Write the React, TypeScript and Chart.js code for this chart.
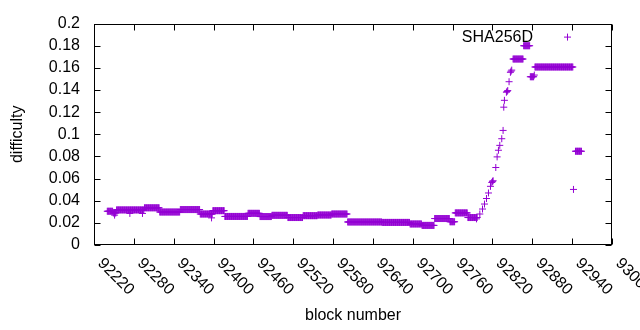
import React, { useEffect, useRef } from "react";
import { Chart, registerables } from "chart.js";

Chart.register(...registerables);

// ---- axis settings ----
const X_MIN = 92220;
const X_MAX = 93000;
const X_STEP = 60;
const Y_MIN = 0;
const Y_MAX = 0.2;
const Y_STEP = 0.02;

// ---- texts ----
const SERIES_LABEL = "SHA256D";
const X_TITLE = "block number";
const Y_TITLE = "difficulty";

// ---- data: plateaus (constant difficulty over a range of blocks) ----
const runStart = [
  92240, 92249, 92254, 92296, 92319, 92350, 92380, 92399, 92417, 92452,
  92470, 92488, 92512, 92535, 92557, 92578, 92602, 92654, 92696, 92714,
  92733, 92756, 92764, 92783, 92851, 92867, 92877, 92884, 92945,
];
const runEnd = [
  92248, 92253, 92295, 92318, 92349, 92379, 92398, 92416, 92451, 92469,
  92487, 92511, 92534, 92556, 92577, 92601, 92653, 92695, 92713, 92732,
  92755, 92763, 92782, 92797, 92866, 92876, 92882, 92941, 92954,
];
const runValue = [
  0.0305, 0.029, 0.0317, 0.0336, 0.0298, 0.032, 0.028, 0.031, 0.0258, 0.0286,
  0.0257, 0.0268, 0.0248, 0.0265, 0.0271, 0.028, 0.0208, 0.0204, 0.019, 0.0177,
  0.0239, 0.021, 0.029, 0.0248, 0.168, 0.18, 0.152, 0.1608, 0.0847,
];

// ---- data: individual blocks ----
const pointBlocks = [
  92251, 92274, 92293, 92397, 92796, 92801, 92805, 92808, 92811, 92814,
  92817, 92819, 92820, 92821, 92825, 92827, 92829, 92831, 92834, 92836,
  92837, 92838, 92841, 92842, 92843, 92845, 92847, 92848, 92849, 92883,
  92942,
];
const pointValues = [
  0.027, 0.0285, 0.0285, 0.0245, 0.0236, 0.028, 0.0325, 0.037, 0.042, 0.047,
  0.053, 0.0565, 0.0575, 0.058, 0.07, 0.0796, 0.0856, 0.09, 0.096, 0.1035,
  0.1245, 0.1307, 0.138, 0.1387, 0.1395, 0.1475, 0.156, 0.157, 0.158, 0.1535,
  0.0502,
];

const COLOR = "#9400d3";
const FONT_FAMILY = "'Liberation Sans', Arial, sans-serif";
const FONT = `16px ${FONT_FAMILY}`;

function buildPoints() {
  const pts: { x: number; y: number }[] = [];
  for (let i = 0; i < runStart.length; i++) {
    for (let b = runStart[i]; b <= runEnd[i]; b++) pts.push({ x: b, y: runValue[i] });
  }
  for (let i = 0; i < pointBlocks.length; i++) pts.push({ x: pointBlocks[i], y: pointValues[i] });
  return pts;
}

const gnuplotFrame = {
  id: "gnuplotFrame",
  afterDatasetsDraw(chart: any) {
    const { ctx, chartArea: a, scales } = chart;
    const xs = scales.x;
    const ys = scales.y;
    ctx.save();
    ctx.strokeStyle = "#000";
    ctx.lineWidth = 1;
    const L = Math.round(a.left) + 0.5;
    const R = Math.round(a.right) - 0.5;
    const T = Math.round(a.top) + 0.5;
    const B = Math.round(a.bottom) - 0.5;
    ctx.strokeRect(L, T, R - L, B - T);
    ctx.beginPath();
    for (const t of ys.ticks) {
      const py = Math.round(ys.getPixelForValue(t.value)) + 0.5;
      ctx.moveTo(L, py);
      ctx.lineTo(L + 6, py);
      ctx.moveTo(R, py);
      ctx.lineTo(R - 6, py);
    }
    for (const t of xs.ticks) {
      const px = Math.round(xs.getPixelForValue(t.value)) + 0.5;
      ctx.moveTo(px, B);
      ctx.lineTo(px, B - 6);
      ctx.moveTo(px, T);
      ctx.lineTo(px, T + 6);
    }
    ctx.stroke();

    ctx.fillStyle = "#000";
    ctx.font = FONT;
    ctx.textAlign = "left";
    ctx.textBaseline = "middle";
    for (const t of xs.ticks) {
      const px = xs.getPixelForValue(t.value);
      ctx.save();
      ctx.translate(px + 6, a.bottom + 16);
      ctx.rotate(Math.PI / 4);
      ctx.fillText(String(t.value), 0, 0);
      ctx.restore();
    }

    ctx.textAlign = "center";
    ctx.fillText(X_TITLE, (a.left + a.right) / 2, 316);
    ctx.save();
    ctx.translate(18, (a.top + a.bottom) / 2);
    ctx.rotate(-Math.PI / 2);
    ctx.fillText(Y_TITLE, 0, 0);
    ctx.restore();

    // key
    ctx.textAlign = "right";
    const ky = a.top + 13.5;
    ctx.fillText(SERIES_LABEL, a.right - 79, ky);
    const kx = a.right - 44.5;
    ctx.strokeStyle = COLOR;
    ctx.beginPath();
    ctx.moveTo(kx - 3.5, ky);
    ctx.lineTo(kx + 3.5, ky);
    ctx.moveTo(kx, ky - 3.5);
    ctx.lineTo(kx, ky + 3.5);
    ctx.stroke();
    ctx.restore();
  },
};

export default function App() {
  const canvasRef = useRef<HTMLCanvasElement | null>(null);

  useEffect(() => {
    document.body.style.margin = "0";
    const canvas = canvasRef.current;
    if (!canvas) return;
    const chart = new Chart(canvas, {
      type: "scatter",
      data: {
        datasets: [
          {
            label: SERIES_LABEL,
            data: buildPoints(),
            pointStyle: "cross",
            pointRadius: 3.5,
            pointBorderWidth: 1,
            borderColor: COLOR,
            backgroundColor: COLOR,
            showLine: false,
          },
        ],
      },
      options: {
        animation: false,
        responsive: false,
        events: [],
        layout: { padding: { left: 0, right: 28, top: 19, bottom: 0 } },
        plugins: {
          legend: { display: false },
          tooltip: { enabled: false },
        },
        scales: {
          x: {
            type: "linear",
            min: X_MIN,
            max: X_MAX,
            grid: { display: false, drawTicks: false },
            border: { display: false },
            ticks: { display: false, stepSize: X_STEP, autoSkip: false },
            afterFit: (s: any) => {
              s.height = 85;
            },
          },
          y: {
            type: "linear",
            min: Y_MIN,
            max: Y_MAX,
            grid: { display: false, drawTicks: false },
            border: { display: false },
            ticks: {
              stepSize: Y_STEP,
              autoSkip: false,
              padding: 14,
              color: "#000",
              font: { family: FONT_FAMILY, size: 16 },
              callback: (v: any) => String(Math.round(Number(v) * 100) / 100),
            },
            afterFit: (s: any) => {
              s.width = 94;
            },
          },
        },
      },
      plugins: [gnuplotFrame],
    });
    return () => chart.destroy();
  }, []);

  return (
    <div style={{ width: 640, height: 330, background: "#fff" }}>
      <canvas ref={canvasRef} width={640} height={330} />
    </div>
  );
}
